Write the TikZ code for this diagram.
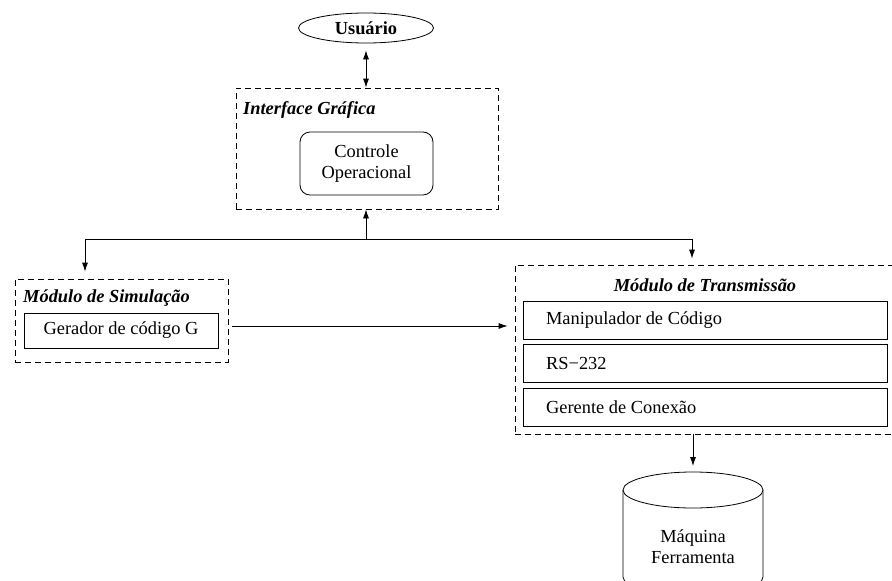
\documentclass[tikz,border=0pt]{standalone}
\usepackage{fontspec}
\setmainfont{Liberation Serif}
\usetikzlibrary{arrows.meta,positioning,shapes.geometric}

\begin{document}
\begin{tikzpicture}[x=1pt, y=1pt, font=\fontsize{18.4}{21}\selectfont,
  mod/.style={draw, dash pattern=on 6pt off 4pt, line width=0.8pt, inner sep=0pt},
  blk/.style={draw, line width=0.8pt, inner sep=0pt},
  ttl/.style={font=\fontsize{18.4}{21}\selectfont\bfseries\itshape, inner sep=0pt},
  arr/.style={line width=0.8pt, -{Latex[length=9pt,width=6pt]}}]
  \useasboundingbox (0,0) rectangle (892,-581);
  \clip (0,0) rectangle (892,-581);

  \node[draw, ellipse, line width=0.8pt, minimum width=135pt, minimum height=30pt, font=\fontsize{18.4}{21}\selectfont\bfseries] (usr) at (366,-28) {Usuário};

  \node[mod, minimum width=262pt, minimum height=121pt] (gui) at (367,-148.5) {};
  \node[ttl, anchor=west] (guittl) at (243,-110) {Interface Gráfica};
  \node[blk, rounded corners=10pt, minimum width=133pt, minimum height=63pt, align=center] (ctrl) at (366.5,-163.5) {Controle\\Operacional};

  \node[mod, minimum width=213pt, minimum height=83pt] (sim) at (121.5,-320.5) {};
  \node[ttl, anchor=west] (simttl) at (23,-298) {Módulo de Simulação};
  \node[blk, minimum width=194pt, minimum height=35pt] (gen) at (121,-330.5) {Gerador de código G};

  \node[mod, minimum width=380pt, minimum height=169pt] (trans) at (705,-349.5) {};
  \node[ttl] (transttl) at (705,-285) {Módulo de Transmissão};
  \foreach \lab/\yc [count=\i] in {Manipulador de Código/320, RS−232/363, Gerente de Conexão/407} {
    \node[blk, minimum width=364pt, minimum height=38pt] (sub\i) at (705,-\yc) {};
    \node[anchor=west] (sublab\i) at ([xshift=20pt]sub\i.west) {\lab};
  }

  \coordinate (cyltop) at (693,-472);
  \draw[line width=0.8pt] (693,-490) ellipse [x radius=70, y radius=18];
  \draw[line width=0.8pt] (623,-490) -- (623,-577) arc[start angle=180, end angle=360, x radius=70, y radius=18] -- (763,-490);
  \node[align=center] (mach) at (693,-547) {Máquina\\Ferramenta};

  \draw[line width=0.8pt, {Latex[length=9pt,width=6pt]}-{Latex[length=9pt,width=6pt]}, shorten <=7pt] (usr.south) -- (usr.south |- gui.north);
  \coordinate (split) at (366,-239);
  \draw[arr] (split) -- (split |- gui.south);
  \draw[arr, shorten >=7pt] (split) -| ([xshift=-36.5pt]sim.north);
  \draw[arr, shorten >=6pt] (split) -| ([xshift=-13pt]trans.north);
  \draw[arr, shorten <=4pt, shorten >=7pt] ([yshift=-5.5pt]sim.east) -- ([yshift=-5.5pt]sim.east -| trans.west);
  \draw[arr, shorten >=6pt] ([xshift=-12pt]trans.south) -- (cyltop);
\end{tikzpicture}
\end{document}
